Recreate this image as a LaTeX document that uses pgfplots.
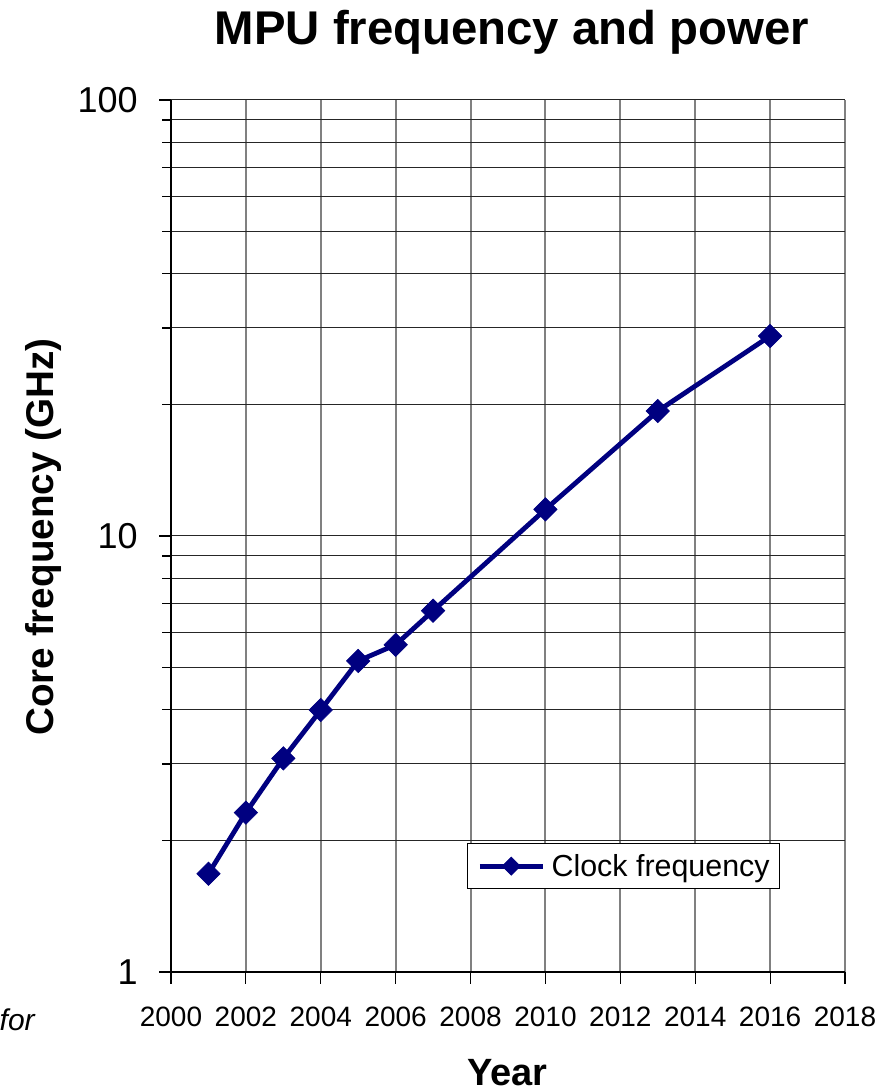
\documentclass[border=0pt]{standalone}
\usepackage{pgfplots}
\pgfplotsset{compat=1.18}
\usepackage{fontspec}
\setmainfont{Liberation Sans}
\definecolor{navyline}{RGB}{0,0,128}
\begin{document}
\begin{tikzpicture}
\useasboundingbox (0pt,0pt) rectangle (666.75pt,817.5pt);
\begin{axis}[
  at={(128.25pt,88.5pt)}, anchor=south west,
  scale only axis, width=505.5pt, height=654pt,
  ymode=log, log basis y=10,
  xmin=2000, xmax=2018, ymin=1, ymax=100,
  axis x line*=bottom, axis y line*=left,
  axis line style={black, line width=1.5pt},
  xtick={2000,2002,...,2018},
  xticklabels={2000,2002,2004,2006,2008,2010,2012,2014,2016,2018},
  ytick={1,10,100}, yticklabels={1,10,100},
  minor ytick={2,3,4,5,6,7,8,9,20,30,40,50,60,70,80,90},
  /pgf/number format/assume math mode=true,
  tick align=outside,
  x tick style={black, line width=0.9pt},
  y tick style={black, line width=0.9pt},
  major tick length=9pt, minor tick length=6.75pt,
  xmajorgrids=true, ymajorgrids=true, yminorgrids=true,
  major grid style={}, minor grid style={},
  x grid style={gray, line width=1.5pt},
  y grid style={black!85, line width=0.75pt},
  xticklabel style={font=\fontsize{21pt}{21pt}\selectfont, anchor=base, yshift=-32.25pt, inner sep=0pt},
  yticklabel style={font=\fontsize{27pt}{27pt}\selectfont, anchor=east, xshift=-15.75pt, inner sep=0pt},
  legend cell align=left,
  legend style={at={(0.4392,0.1479)}, anchor=north west, draw=black, line width=0.75pt,
    fill=white, font=\fontsize{22.8pt}{22.8pt}\selectfont,
    inner xsep=7.5pt, inner ysep=8pt,
    nodes={inner sep=0pt},
    /tikz/every odd column/.append style={column sep=5pt}},
  legend image code/.code={
    \draw[#1, mark=none] (0pt,0pt) -- (47pt,0pt);
    \draw[#1, mark size=4.8pt] plot coordinates {(23.5pt,0pt)};
  },
]
\addplot[color=navyline, line width=3.6pt, mark=square*, mark size=6.2pt,
  mark options={rotate=45, solid, fill=navyline, draw=navyline, line width=0.5pt}]
  coordinates {
  (2001,1.68) (2002,2.32) (2003,3.09) (2004,3.99) (2005,5.17)
  (2006,5.63) (2007,6.74) (2010,11.51) (2013,19.35) (2016,28.75)
  };
\addlegendentry{Clock frequency}
\end{axis}
\node[anchor=base, inner sep=0pt] at (384pt,784.3pt)
  {\fontsize{35.5pt}{35.5pt}\selectfont\bfseries MPU frequency and power};
\node[anchor=base, inner sep=0pt, rotate=90] at (39.75pt,414.75pt)
  {\fontsize{29pt}{29pt}\selectfont\bfseries Core frequency (GHz)};
\node[anchor=base, inner sep=0pt] at (380.6pt,3.75pt)
  {\fontsize{28.5pt}{28.5pt}\selectfont\bfseries Year};
\node[anchor=base east, inner sep=0pt] at (26.25pt,45pt)
  {\fontsize{22.5pt}{22.5pt}\selectfont\itshape for};
\end{tikzpicture}
\end{document}
